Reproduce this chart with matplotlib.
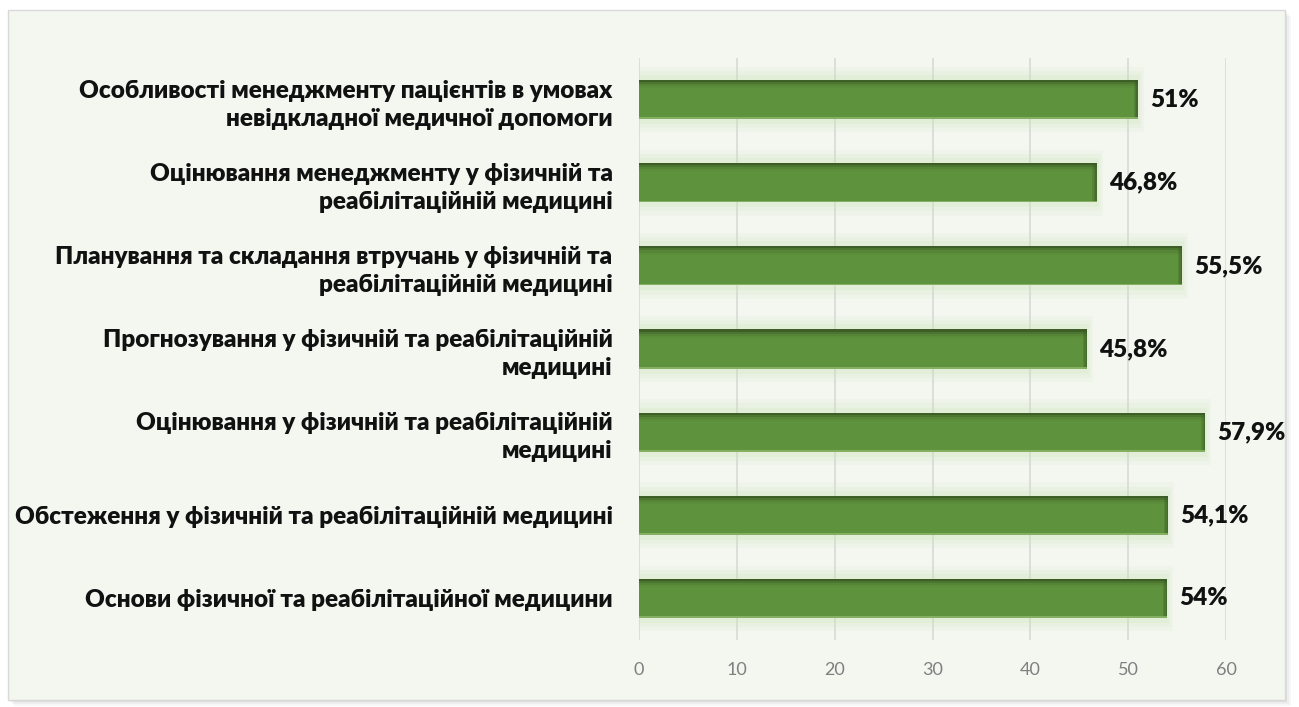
import matplotlib
matplotlib.use("Agg")
import matplotlib.pyplot as plt
from matplotlib.patches import Rectangle
import numpy as np

categories = [
    "Особливості менеджменту пацієнтів в умовах\nневідкладної медичної допомоги",
    "Оцінювання менеджменту у фізичній та\nреабілітаційній медицині",
    "Планування та складання втручань у фізичній та\nреабілітаційній медицині",
    "Прогнозування у фізичній та реабілітаційній\nмедицині",
    "Оцінювання у фізичній та реабілітаційній\nмедицині",
    "Обстеження у фізичній та реабілітаційній медицині",
    "Основи фізичної та реабілітаційної медицини",
]
values = [51, 46.8, 55.5, 45.8, 57.9, 54.1, 54]
value_labels = ["51%", "46,8%", "55,5%", "45,8%", "57,9%", "54,1%", "54%"]
xticks = [0, 10, 20, 30, 40, 50, 60]

plt.rcParams['font.family'] = ['Lato', 'DejaVu Sans']

W, H = 1299, 707
fig = plt.figure(figsize=(W / 100, H / 100), dpi=100)
fig.patch.set_facecolor('white')

# outer frame with shadow
for i, a in enumerate([0.03, 0.04, 0.06]):
    off = 6 - i * 2
    fig.patches.append(Rectangle(((8 + off) / W, (H - 700 - off) / H), (1285 - 8) / W, (700 - 10) / H,
                                 transform=fig.transFigure, facecolor='black', alpha=a,
                                 edgecolor='none', zorder=0))
fig.patches.append(Rectangle((8 / W, (H - 700) / H), (1285 - 8) / W, (700 - 10) / H,
                             transform=fig.transFigure, facecolor='#f3f7f0',
                             edgecolor='#d9d9d9', linewidth=1.0, zorder=1))

left, right = 639, 1226
top, bottom = 58, 640
ax = fig.add_axes([left / W, 1 - bottom / H, (right - left) / W, (bottom - top) / H])
ax.set_facecolor('none')
ax.set_zorder(2)

n = len(categories)
y = np.arange(n)[::-1]
bh = 0.47

ax.set_xlim(0, 60)
ax.set_ylim(-0.5, n - 0.5)
ax.set_xticks(xticks)
ax.set_xticklabels([str(t) for t in xticks])
ax.grid(axis='x', color='#d9d9d9', linewidth=1.2, zorder=0)
ax.set_axisbelow(True)
for s in ax.spines.values():
    s.set_visible(False)
ax.tick_params(axis='x', length=0, pad=16, labelsize=13, labelcolor='#7f7f7f')
ax.tick_params(axis='y', length=0, pad=19)
ax.set_yticks(y)
ax.set_yticklabels(categories, fontsize=17.5, fontweight='heavy', color='#111111',
                   ha='right', multialignment='right', linespacing=1.35)

# glow behind bars
for yi, v in zip(y, values):
    for k, a in enumerate([0.10, 0.12, 0.16]):
        g = 0.16 - k * 0.05
        gx = 0.6 - k * 0.2
        ax.add_patch(Rectangle((0, yi - bh / 2 - g), v + gx, bh + 2 * g,
                               facecolor='#c9e2b0', alpha=a, edgecolor='none', zorder=1))

ax.barh(y, values, height=bh, color='#5f923d', edgecolor='none', zorder=3)

# bevel: darker top and right edges, light bottom line
for yi, v in zip(y, values):
    steps = [('#3a5a25', 0.9), ('#44692b', 0.7), ('#4f7a33', 0.5), ('#578739', 0.4)]
    for j, (c, a) in enumerate(steps):
        ax.add_patch(Rectangle((0, yi + bh / 2 - 0.025 * (j + 1)), v, 0.025, facecolor=c,
                               edgecolor='none', zorder=4, alpha=a))
    for j, a in enumerate([0.7, 0.45, 0.25]):
        ax.add_patch(Rectangle((v - 0.15 * (j + 1), yi - bh / 2), 0.15, bh, facecolor='#3a5a25',
                               edgecolor='none', zorder=4, alpha=a))
    ax.add_patch(Rectangle((0, yi - bh / 2), v, 0.02, facecolor='#8fb86e',
                           edgecolor='none', zorder=4, alpha=0.8))

for yi, v, lab in zip(y, values, value_labels):
    ax.text(v + 1.2, yi, lab, va='center', ha='left', fontsize=17.5,
            fontweight='heavy', color='#111111', zorder=5)

fig.savefig('out.png', dpi=100, facecolor=fig.get_facecolor())
